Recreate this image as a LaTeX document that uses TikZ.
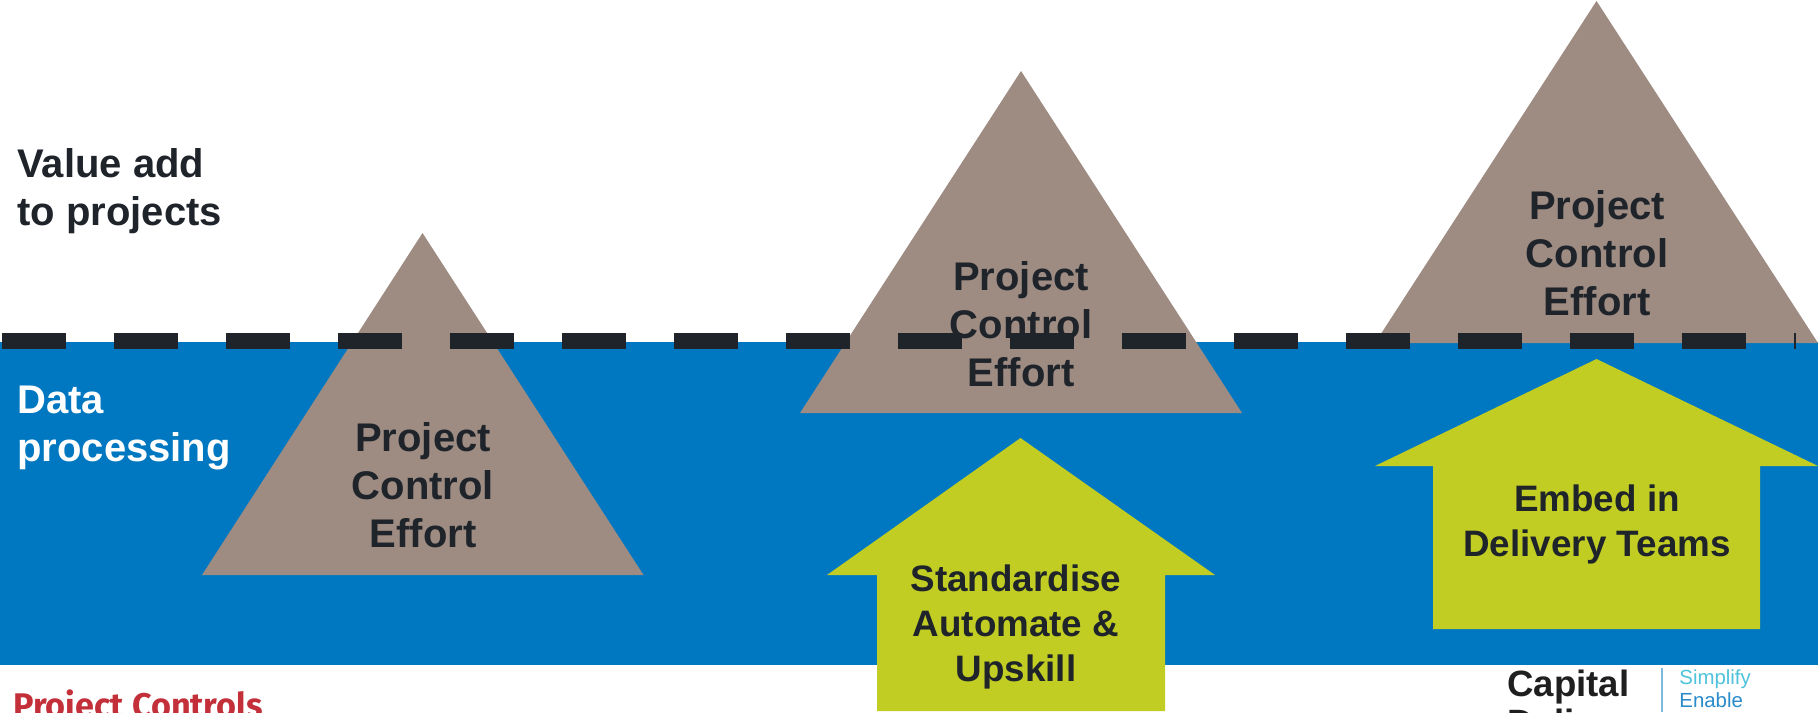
\documentclass[tikz,border=0pt]{standalone}
\usepackage{fontspec}
\setmainfont{Liberation Sans}
\newfontfamily\redfont{Fira Sans}
\definecolor{seablue}{HTML}{0078C1}
\definecolor{peak}{HTML}{9E8C83}
\definecolor{lime}{HTML}{C1CD23}
\definecolor{ink}{HTML}{1F242B}
\definecolor{redtitle}{HTML}{C4303A}
\definecolor{skyt}{HTML}{4FC3DC}
\definecolor{bluet}{HTML}{2A8BCB}
\tikzset{
  peakshape/.style={fill=peak,draw=none},
  arrowshape/.style={fill=lime,draw=none},
  bigtext/.style={font=\bfseries\fontsize{20}{24}\selectfont,text=ink,align=center,inner sep=0pt},
  arrowtext/.style={font=\bfseries\fontsize{18.4}{22.5}\selectfont,text=ink,align=center,inner sep=0pt},
  sidetext/.style={font=\bfseries\fontsize{20}{24}\selectfont,align=left,inner sep=0pt,anchor=west},
  waterline/.style={draw=ink,line width=8pt,dash pattern=on 32pt off 24pt},
  logotext/.style={inner sep=0pt,anchor=base west}
}
\begin{document}
\begin{tikzpicture}[x=0.5pt,y=-0.5pt]
\useasboundingbox[clip] (0,0) rectangle (1818,712);
\fill[white] (0,0) rectangle (1818,712);
\fill[seablue] (0,342) rectangle (1818,665);
% peaks
\fill[peakshape] (422.5,233) -- (643.5,575) -- (202,575) -- cycle;
\fill[peakshape] (1021,71) -- (1242,413) -- (800,413) -- cycle;
\fill[peakshape] (1596.5,1) -- (1818,343) -- (1375,343) -- cycle;
% arrows
\fill[arrowshape] (1020.5,438) -- (1215,575) -- (1165,575) -- (1165,711) -- (877,711) -- (877,575) -- (827,575) -- cycle;
\fill[arrowshape] (1596.5,359) -- (1818,466) -- (1760,466) -- (1760,629) -- (1433,629) -- (1433,466) -- (1375,466) -- cycle;
% labels on peaks
\node[bigtext] (p1) at (423,485) {Project\\Control\\Effort};
\node[bigtext] (p2) at (1021,324) {Project\\Control\\Effort};
\node[bigtext] (p3) at (1597,253) {Project\\Control\\Effort};
% water line
\coordinate (wl) at (2,341);
\coordinate (wr) at (1796,341);
\draw[waterline] (wl) -- (wr);
% arrow labels
\node[arrowtext] (a1) at (1016,627) {Standardise\\Automate \&\\Upskill};
\node[arrowtext] (a2) at (1597,524) {Embed in\\Delivery Teams};
% side labels
\node[sidetext,text=ink] (v) at (17,191) {Value add\\to projects};
\node[sidetext,text=white] (d) at (17,428) {Data\\processing};
% footer
\node[logotext,font=\redfont\bfseries\fontsize{17.1}{20}\selectfont,text=redtitle] (pc) at (13,717) {Project Controls};
\node[logotext,font=\bfseries\fontsize{18.3}{21}\selectfont,text=black!88] (cap) at (1507,696) {Capital};
\node[logotext,font=\bfseries\fontsize{18.3}{21}\selectfont,text=black!88] (del) at (1507,735) {Delivery};
\coordinate (bart) at (1662,668);
\coordinate (barb) at (1662,712);
\draw[bluet!60,line width=0.6pt] (bart) -- (barb);
\node[logotext,font=\fontsize{10.2}{12}\selectfont,text=skyt] (s) at (1679,684) {Simplify};
\node[logotext,font=\fontsize{10.2}{12}\selectfont,text=bluet] (e) at (1679,707) {Enable};
\end{tikzpicture}
\end{document}
